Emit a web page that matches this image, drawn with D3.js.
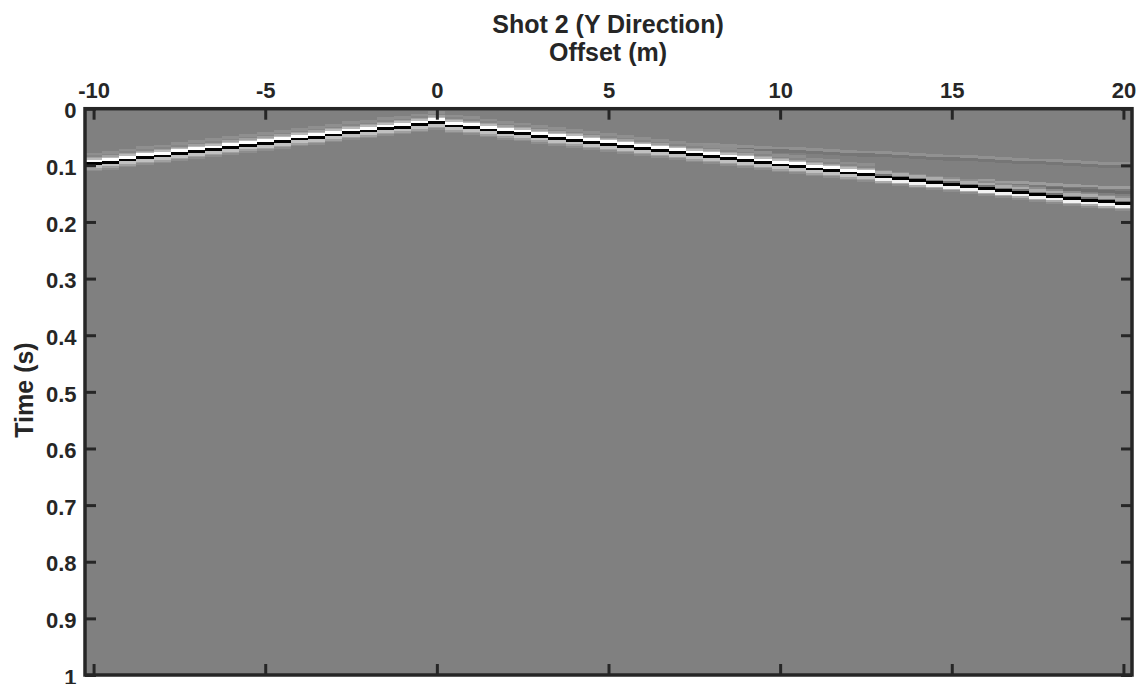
<!DOCTYPE html>
<html>
<head>
<meta charset="utf-8">
<script src="https://cdn.jsdelivr.net/npm/d3@7"></script>
<style>
  body { margin: 0; background: #fff; }
  text { font-family: "Liberation Sans", Arial, sans-serif; font-weight: bold; fill: #262626; }
</style>
</head>
<body>
<div id="plot"></div>
<script>
// trace offsets (m)
const offsets = [-10, -9.5, -9, -8.5, -8, -7.5, -7, -6.5, -6, -5.5, -5, -4.5, -4, -3.5, -3, -2.5, -2, -1.5, -1, -0.5,
  0, 0.5, 1, 1.5, 2, 2.5, 3, 3.5, 4, 4.5, 5, 5.5, 6, 6.5, 7, 7.5, 8, 8.5, 9, 9.5,
  10, 10.5, 11, 11.5, 12, 12.5, 13, 13.5, 14, 14.5, 15, 15.5, 16, 16.5, 17, 17.5, 18, 18.5, 19, 19.5, 20];

// first arrival (s)
const directTimes = [0.095, 0.092, 0.088, 0.084, 0.081, 0.077, 0.073, 0.070, 0.066, 0.062, 0.059, 0.055, 0.051, 0.048, 0.044, 0.040, 0.037, 0.033, 0.030, 0.026,
  0.022, 0.028, 0.031, 0.035, 0.039, 0.042, 0.046, 0.050, 0.053, 0.057, 0.061, 0.064, 0.068, 0.071, 0.075, 0.079, 0.082, 0.086, 0.089, 0.093,
  0.097, 0.100, 0.104, 0.107, 0.111, 0.114, 0.118, 0.121, 0.125, 0.128, 0.131, 0.135, 0.138, 0.142, 0.145, 0.149, 0.152, 0.156, 0.159, 0.162, 0.165];

// faint shallow event on the right
const event2Offsets = [5, 5.5, 6, 6.5, 7, 7.5, 8, 8.5, 9, 9.5, 10, 10.5, 11, 11.5, 12, 12.5, 13, 13.5, 14, 14.5, 15, 15.5, 16, 16.5, 17, 17.5, 18, 18.5, 19, 19.5, 20];
const event2Times = [0.058, 0.059, 0.061, 0.062, 0.064, 0.065, 0.066, 0.068, 0.069, 0.071, 0.072, 0.073, 0.075, 0.076, 0.078, 0.079, 0.080, 0.082, 0.083, 0.085, 0.086, 0.087, 0.089, 0.090, 0.092, 0.093, 0.094, 0.096, 0.097, 0.099, 0.100];

// weak event just above the first arrival at far offsets
const event3Offsets = [14.5, 15, 15.5, 16, 16.5, 17, 17.5, 18, 18.5, 19, 19.5, 20];
const event3Times = [0.126, 0.127, 0.129, 0.130, 0.132, 0.133, 0.135, 0.136, 0.138, 0.139, 0.141, 0.142];

// wavelet samples, top to bottom (-1 white, +1 black)
const waveletNear = [-0.12, -0.12, -0.05, -0.25, -0.45, -1, -1, 1, 1, -0.5, -0.5, -0.25, -0.1];
const waveletFar = [-0.1, -0.35, -0.35, 0.1, 1, 1, -0.9, -0.9, -0.35, -0.1];
const waveletFaint = [-0.13, -0.13, 0.08, 0.08];
const waveletWeak = [-0.22, -0.22, 0.05, 0.15, 0.15];

const xTicks = [-10, -5, 0, 5, 10, 15, 20];
const yTicks = [0, 0.1, 0.2, 0.3, 0.4, 0.5, 0.6, 0.7, 0.8, 0.9, 1];

const w = 1144, h = 684;
const plotLeft = 85, plotRight = 1132, plotTop = 108.7, plotBottom = 675;
const dt = 0.0025;
const traceStep = 0.5;

const svg = d3.select("div#plot")
  .append("svg")
    .attr("width", w)
    .attr("height", h);

const xScale = d3.scaleLinear()
  .domain([-10.25, 20.25])
  .range([plotLeft, plotRight]);

const yScale = d3.scaleLinear()
  .domain([0, 1])
  .range([plotTop, plotBottom]);

const amp = d3.scaleLinear()
  .domain([-1, 0, 1])
  .range(["#ffffff", "#808080", "#000000"])
  .clamp(true);

svg.append("clipPath")
    .attr("id", "clip")
  .append("rect")
    .attr("x", plotLeft)
    .attr("y", plotTop)
    .attr("width", plotRight - plotLeft)
    .attr("height", plotBottom - plotTop);

const plot = svg.append("g").attr("clip-path", "url(#clip)");

plot.append("rect")
  .attr("x", plotLeft)
  .attr("y", plotTop)
  .attr("width", plotRight - plotLeft)
  .attr("height", plotBottom - plotTop)
  .attr("fill", "#808080");

function drawEvent(offs, times, pickWavelet) {
  const cells = [];
  offs.forEach((x, i) => {
    const wv = pickWavelet(x);
    wv.samples.forEach((a, j) => {
      cells.push({x: x, t: times[i] + (j - wv.onset) * dt, a: a});
    });
  });
  plot.append("g")
    .selectAll("rect")
    .data(cells)
    .enter().append("rect")
      .attr("x", d => xScale(d.x - traceStep / 2))
      .attr("y", d => yScale(d.t))
      .attr("width", xScale(traceStep) - xScale(0))
      .attr("height", yScale(dt) - yScale(0) + 0.3)
      .attr("fill", d => amp(d.a))
      .attr("shape-rendering", "crispEdges");
}

drawEvent(event2Offsets, event2Times, () => ({samples: waveletFaint, onset: 2}));
drawEvent(event3Offsets, event3Times, () => ({samples: waveletWeak, onset: 2}));
drawEvent(offsets, directTimes, x => x > 12.5 ? {samples: waveletFar, onset: 4} : {samples: waveletNear, onset: 7});

// axes with inward ticks
const xAxisTop = d3.axisTop(xScale).tickValues(xTicks).tickSizeInner(-11).tickSizeOuter(0).tickPadding(11)
  .tickFormat(d => String(d));
const xAxisBottom = d3.axisBottom(xScale).tickValues(xTicks).tickSizeInner(-11).tickSizeOuter(0).tickFormat("");
const yAxisLeft = d3.axisLeft(yScale).tickValues(yTicks).tickSizeInner(-11).tickSizeOuter(0).tickPadding(8.5)
  .tickFormat(d => String(d));
const yAxisRight = d3.axisRight(yScale).tickValues(yTicks).tickSizeInner(-11).tickSizeOuter(0).tickFormat("");

function style(g) {
  g.select(".domain").remove();
  g.selectAll(".tick line").attr("stroke", "#262626").attr("stroke-width", 3);
  g.selectAll(".tick text").attr("fill", "#262626").style("font-size", "22px").style("font-weight", "bold")
    .style("font-family", "'Liberation Sans', Arial, sans-serif");
}

svg.append("g").attr("transform", `translate(0, ${plotTop})`).call(xAxisTop).call(style);
svg.append("g").attr("transform", `translate(0, ${plotBottom})`).call(xAxisBottom).call(style);
svg.append("g").attr("transform", `translate(${plotLeft}, 0)`).call(yAxisLeft).call(style)
  .selectAll(".tick text").attr("dy", "0.42em");
svg.append("g").attr("transform", `translate(${plotRight}, 0)`).call(yAxisRight).call(style);

svg.append("rect")
  .attr("x", plotLeft)
  .attr("y", plotTop)
  .attr("width", plotRight - plotLeft)
  .attr("height", plotBottom - plotTop)
  .attr("fill", "none")
  .attr("stroke", "#262626")
  .attr("stroke-width", 3.5);

svg.append("text")
  .attr("x", 608)
  .attr("y", 33)
  .attr("text-anchor", "middle")
  .style("font-size", "25px")
  .text("Shot 2 (Y Direction)");

svg.append("text")
  .attr("x", 608)
  .attr("y", 61)
  .attr("text-anchor", "middle")
  .style("font-size", "25px")
  .text("Offset (m)");

svg.append("text")
  .attr("transform", "translate(33, 390) rotate(-90)")
  .attr("text-anchor", "middle")
  .style("font-size", "25px")
  .text("Time (s)");
</script>
</body>
</html>
